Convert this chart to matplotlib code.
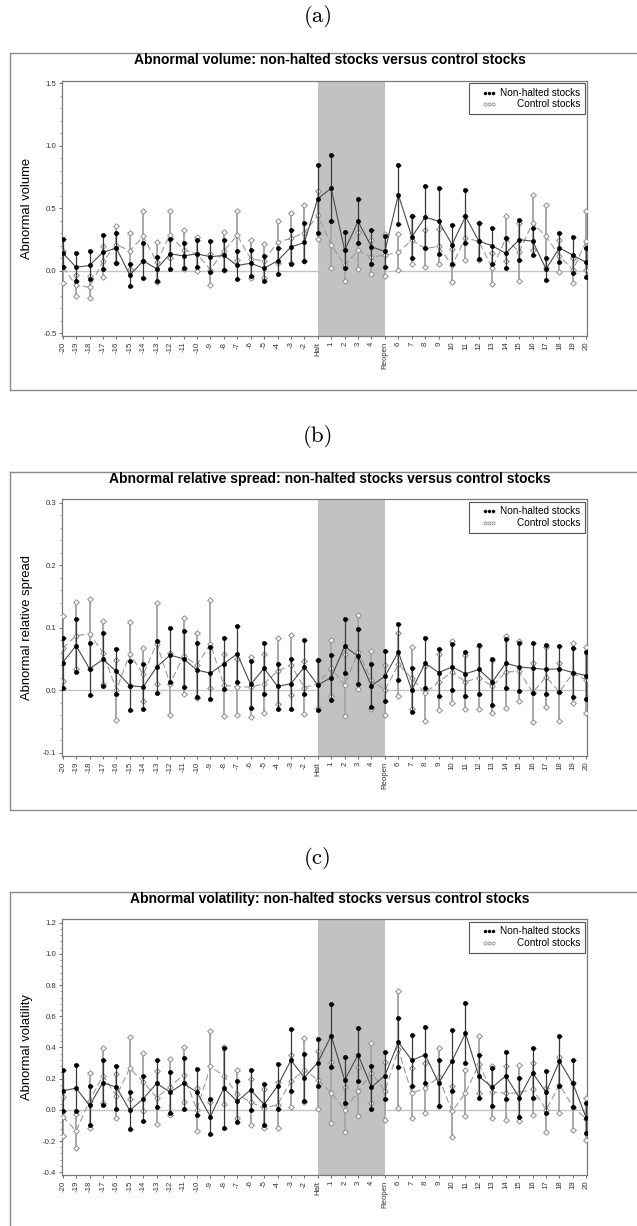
import matplotlib
matplotlib.use("Agg")
import matplotlib.pyplot as plt
import numpy as np
from matplotlib.lines import Line2D
from matplotlib.patches import Rectangle
from matplotlib.ticker import MultipleLocator, FormatStrFormatter

plt.rcParams['font.family'] = ['Liberation Sans', 'DejaVu Sans']
plt.rcParams['axes.unicode_minus'] = False

# ---------------- data ----------------
categories = ['-20', '-19', '-18', '-17', '-16', '-15', '-14', '-13', '-12', '-11',
              '-10', '-9', '-8', '-7', '-6', '-5', '-4', '-3', '-2', 'Halt',
              '1', '2', '3', '4', 'Reopen', '6', '7', '8', '9', '10',
              '11', '12', '13', '14', '15', '16', '17', '18', '19', '20']
halt_label = 'Halt'
reopen_label = 'Reopen'

# (a) abnormal volume
vol_nh_mean = [0.144, 0.029, 0.043, 0.149, 0.182, -0.035, 0.08, 0.016, 0.136, 0.12,
               0.136, 0.113, 0.123, 0.043, 0.061, 0.021, 0.08, 0.19, 0.227, 0.578,
               0.66, 0.165, 0.395, 0.192, 0.155, 0.61, 0.272, 0.43, 0.397, 0.21,
               0.435, 0.237, 0.2, 0.14, 0.25, 0.237, 0.015, 0.184, 0.125, 0.067]
vol_nh_err = [0.113, 0.11, 0.112, 0.134, 0.12, 0.088, 0.14, 0.095, 0.122, 0.1,
              0.107, 0.122, 0.12, 0.112, 0.104, 0.1, 0.103, 0.135, 0.152, 0.272,
              0.265, 0.144, 0.176, 0.135, 0.123, 0.233, 0.167, 0.25, 0.265, 0.153,
              0.212, 0.143, 0.144, 0.12, 0.16, 0.107, 0.09, 0.117, 0.143, 0.116]
vol_ct_mean = [0.03, -0.117, -0.13, 0.075, 0.21, 0.16, 0.275, 0.072, 0.29, 0.168,
               0.135, 0.01, 0.16, 0.285, 0.095, 0.08, 0.23, 0.26, 0.305, 0.445,
               0.21, 0.045, 0.163, 0.11, 0.125, 0.15, 0.245, 0.18, 0.195, 0.043,
               0.265, 0.235, 0.02, 0.26, 0.15, 0.385, 0.275, 0.12, 0.005, 0.24]
vol_ct_err = [0.125, 0.087, 0.09, 0.125, 0.15, 0.145, 0.2, 0.162, 0.19, 0.155,
              0.135, 0.125, 0.15, 0.197, 0.15, 0.135, 0.17, 0.2, 0.225, 0.19,
              0.19, 0.125, 0.15, 0.135, 0.168, 0.145, 0.19, 0.148, 0.143, 0.13,
              0.175, 0.145, 0.125, 0.18, 0.235, 0.222, 0.255, 0.13, 0.1, 0.235]

# (b) abnormal relative spread
spr_nh_mean = [0.044, 0.071, 0.034, 0.049, 0.03, 0.007, 0.005, 0.037, 0.056, 0.05,
               0.032, 0.027, 0.042, 0.058, 0.009, 0.035, 0.006, 0.01, 0.037, 0.008,
               0.02, 0.07, 0.054, 0.007, 0.022, 0.061, 0.0, 0.043, 0.028, 0.037,
               0.026, 0.033, 0.013, 0.043, 0.037, 0.035, 0.033, 0.034, 0.028, 0.023]
spr_nh_err = [0.04, 0.042, 0.042, 0.042, 0.036, 0.039, 0.036, 0.041, 0.043, 0.045,
              0.043, 0.042, 0.041, 0.045, 0.037, 0.041, 0.036, 0.04, 0.043, 0.04,
              0.036, 0.043, 0.044, 0.034, 0.04, 0.045, 0.035, 0.04, 0.037, 0.037,
              0.035, 0.039, 0.037, 0.039, 0.038, 0.04, 0.039, 0.037, 0.039, 0.038]
spr_ct_mean = [0.067, 0.087, 0.09, 0.06, 0.0, 0.058, 0.025, 0.074, 0.01, 0.055,
               0.04, 0.074, 0.008, 0.005, 0.005, 0.01, 0.03, 0.04, 0.004, 0.01,
               0.035, 0.008, 0.061, 0.016, 0.0, 0.041, 0.019, -0.005, 0.013, 0.029,
               0.013, 0.02, 0.006, 0.029, 0.03, -0.004, 0.021, -0.003, 0.027, 0.016]
spr_ct_err = [0.052, 0.054, 0.056, 0.051, 0.048, 0.051, 0.042, 0.065, 0.05, 0.061,
              0.052, 0.07, 0.05, 0.045, 0.048, 0.047, 0.053, 0.048, 0.042, 0.038,
              0.045, 0.049, 0.059, 0.046, 0.04, 0.051, 0.05, 0.044, 0.045, 0.05,
              0.043, 0.051, 0.042, 0.057, 0.048, 0.047, 0.048, 0.047, 0.048, 0.053]

# (c) abnormal volatility
vlt_nh_mean = [0.122, 0.139, 0.028, 0.175, 0.145, -0.004, 0.071, 0.17, 0.113, 0.169,
               0.113, -0.043, 0.139, 0.055, 0.128, 0.034, 0.152, 0.318, 0.207, 0.303,
               0.476, 0.19, 0.353, 0.145, 0.22, 0.434, 0.318, 0.353, 0.171, 0.314,
               0.49, 0.214, 0.145, 0.218, 0.079, 0.237, 0.113, 0.312, 0.169, -0.053]
vlt_nh_err = [0.132, 0.146, 0.126, 0.147, 0.139, 0.118, 0.143, 0.152, 0.132, 0.162,
              0.149, 0.11, 0.255, 0.133, 0.128, 0.132, 0.145, 0.2, 0.152, 0.152,
              0.2, 0.148, 0.17, 0.138, 0.15, 0.158, 0.165, 0.178, 0.146, 0.195,
              0.192, 0.14, 0.123, 0.151, 0.123, 0.159, 0.136, 0.16, 0.149, 0.095]
vlt_ct_mean = [-0.043, -0.135, 0.058, 0.22, 0.088, 0.267, 0.178, 0.079, 0.148, 0.226,
               0.0, 0.278, 0.218, 0.1, 0.049, 0.01, 0.033, 0.183, 0.255, 0.193,
               0.109, 0.0, 0.12, 0.235, 0.12, 0.389, 0.107, 0.139, 0.21, -0.01,
               0.109, 0.293, 0.113, 0.107, 0.109, 0.135, 0.0, 0.16, 0.02, -0.06]
vlt_ct_err = [0.123, 0.11, 0.175, 0.176, 0.139, 0.2, 0.184, 0.167, 0.178, 0.176,
              0.138, 0.228, 0.183, 0.153, 0.146, 0.125, 0.148, 0.166, 0.205, 0.187,
              0.195, 0.145, 0.157, 0.194, 0.187, 0.376, 0.16, 0.16, 0.188, 0.162,
              0.147, 0.183, 0.168, 0.172, 0.178, 0.165, 0.143, 0.178, 0.15, 0.133]

panel_labels = ['(a)', '(b)', '(c)']
titles = ['Abnormal volume: non-halted stocks versus control stocks',
          'Abnormal relative spread: non-halted stocks versus control stocks',
          'Abnormal volatility: non-halted stocks versus control stocks']
ylabels = ['Abnormal volume', 'Abnormal relative spread', 'Abnormal volatility']
legend_labels = ['Non-halted stocks', 'Control stocks']

# ---------------- layout ----------------
W, H = 637, 1226
fig = plt.figure(figsize=(W / 100, H / 100), dpi=100)

def fy(px):
    return 1 - px / H

def fx(px):
    return px / W

panels = [
    dict(nh=(vol_nh_mean, vol_nh_err), ct=(vol_ct_mean, vol_ct_err),
         ylim=(-0.521, 1.521), major=0.5, minor=0.1, fmt='%.1f',
         ax_top=80.7, ax_bot=336.0, box_top=52.7, box_bot=390.0,
         lab_y=16, title_y=60.5),
    dict(nh=(spr_nh_mean, spr_nh_err), ct=(spr_ct_mean, spr_ct_err),
         ylim=(-0.1056, 0.3054), major=0.1, minor=0.02, fmt='%.1f',
         ax_top=499.3, ax_bot=756.0, box_top=471.7, box_bot=810.0,
         lab_y=437, title_y=479.3),
    dict(nh=(vlt_nh_mean, vlt_nh_err), ct=(vlt_ct_mean, vlt_ct_err),
         ylim=(-0.418, 1.222), major=0.2, minor=0.04, fmt='%.1f',
         ax_top=919.3, ax_bot=1175.0, box_top=891.7, box_bot=1232.0,
         lab_y=858, title_y=899.0),
]

ax_left, ax_right = 62.0, 587.0
x = np.arange(len(categories))
halt_i = categories.index(halt_label)
reopen_i = categories.index(reopen_label)

black = '#000000'
dark = '#3a3a3a'
grey_line = '#9a9a9a'
grey_bar = '#a8a8a8'
grey_edge = '#8c8c8c'
frame_col = '#7a7a7a'

for k, p in enumerate(panels):
    # outer box
    bl, bt, bb = fx(10), fy(p['box_top']), fy(p['box_bot'])
    fig.add_artist(Line2D([bl, 1.05], [bt, bt], color='#8a8a8a', lw=1.0, transform=fig.transFigure))
    fig.add_artist(Line2D([bl, bl], [bt, bb], color='#8a8a8a', lw=1.0, transform=fig.transFigure))
    fig.add_artist(Line2D([bl, 1.05], [bb, bb], color='#8a8a8a', lw=1.0, transform=fig.transFigure))

    fig.text(fx(318), fy(p['lab_y']), panel_labels[k], ha='center', va='center',
             fontsize=16.5, family=['cmr10', 'DejaVu Serif'])
    fig.text(fx(330), fy(p['title_y']), titles[k], ha='center', va='center',
             fontsize=10.0, fontweight='bold')

    ax = fig.add_axes([fx(ax_left), fy(p['ax_bot']), fx(ax_right - ax_left),
                       (p['ax_bot'] - p['ax_top']) / H])
    ax.set_xlim(-0.05, len(categories) - 1 + 0.05)
    ax.set_ylim(*p['ylim'])

    ax.axvspan(halt_i, reopen_i, color='#c2c2c2', lw=0, zorder=0)
    ax.axhline(0, color='#c4c4c4', lw=1.0, zorder=1)

    m_nh, e_nh = np.array(p['nh'][0]), np.array(p['nh'][1])
    m_ct, e_ct = np.array(p['ct'][0]), np.array(p['ct'][1])

    # control stocks (grey)
    ax.errorbar(x, m_ct, yerr=e_ct, fmt='none', ecolor=grey_bar, elinewidth=1.4,
                capsize=2.0, capthick=0.8, zorder=2)
    ax.plot(x, m_ct, color=grey_line, lw=0.8, dashes=[6, 3], zorder=3)
    for yy in (m_ct, m_ct + e_ct, m_ct - e_ct):
        ax.plot(x, yy, ls='none', marker='D', ms=2.8, mfc='white', mec=grey_edge,
                mew=0.7, zorder=4)

    # non-halted stocks (black)
    ax.errorbar(x, m_nh, yerr=e_nh, fmt='none', ecolor=dark, elinewidth=0.9,
                capsize=1.8, capthick=0.8, zorder=5)
    ax.plot(x, m_nh, color='#4a4a4a', lw=0.8, zorder=6)
    for yy in (m_nh, m_nh + e_nh, m_nh - e_nh):
        ax.plot(x, yy, ls='none', marker='o', ms=3.2, mfc=black, mec=black,
                mew=0.3, zorder=7)

    # axes styling
    for s in ax.spines.values():
        s.set_color(frame_col)
        s.set_linewidth(0.9)
    ax.set_xticks(x)
    ax.set_xticklabels(categories, rotation=90, fontsize=5.6, color='#333333')
    ax.yaxis.set_major_locator(MultipleLocator(p['major']))
    ax.yaxis.set_minor_locator(MultipleLocator(p['minor']))
    ax.yaxis.set_major_formatter(FormatStrFormatter(p['fmt']))
    ax.tick_params(axis='y', which='major', labelsize=5.6, labelcolor='#333333',
                   length=2.5, width=0.6, color='#555555', pad=1.5)
    ax.tick_params(axis='y', which='minor', length=1.4, width=0.5, color='#777777')
    ax.tick_params(axis='x', which='major', length=2.5, width=0.6, color='#555555', pad=1.5)

    fig.text(fx(27), fy((p['ax_top'] + p['ax_bot']) / 2), ylabels[k], rotation=90,
             ha='center', va='center', fontsize=9.4)

    # legend box
    lx0, lx1 = 0.775, 0.9956
    ly0, ly1 = 0.870, 0.990
    ax.add_patch(Rectangle((lx0, ly0), lx1 - lx0, ly1 - ly0, transform=ax.transAxes,
                           fc='white', ec='#555555', lw=0.8, zorder=10))
    rows = [(0.953, dict(marker='o', ms=2.2, mfc=black, mec=black, mew=0.3)),
            (0.908, dict(marker='o', ms=2.2, mfc='white', mec=grey_edge, mew=0.6))]
    for (ry, mk), lab in zip(rows, legend_labels):
        ax.add_line(Line2D([0.806, 0.813, 0.820], [ry, ry, ry], ls='none',
                           transform=ax.transAxes, zorder=11, **mk))
        ax.text(0.987, ry, lab, transform=ax.transAxes, ha='right', va='center',
                fontsize=7.2, zorder=11)

fig.savefig('out.png', dpi=100)
